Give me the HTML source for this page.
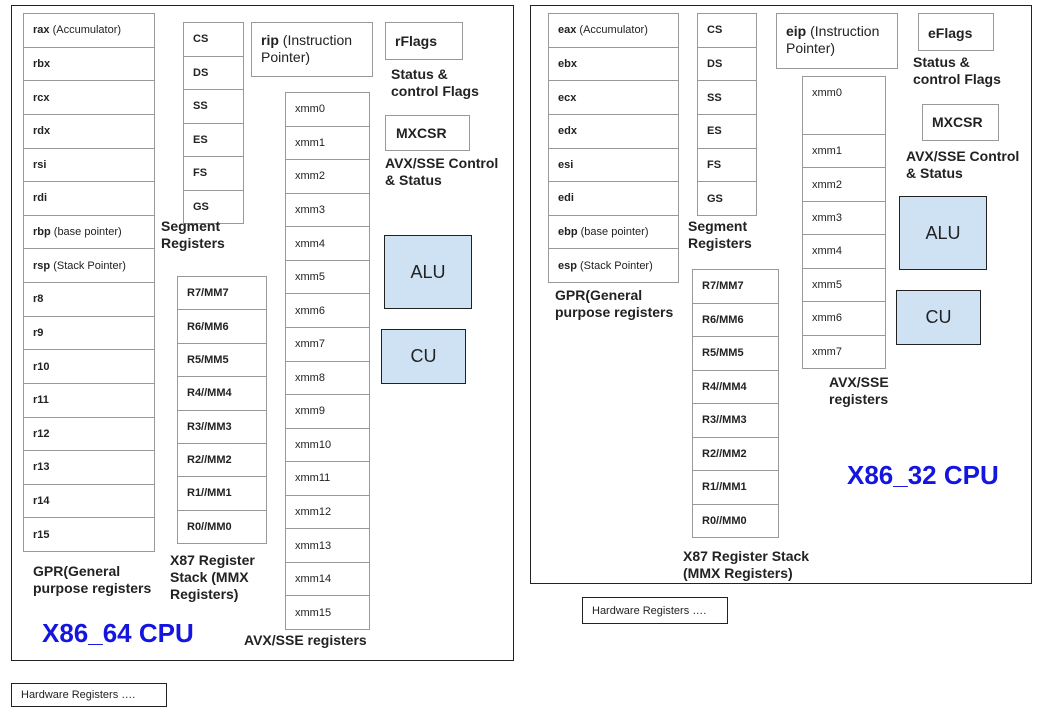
<!DOCTYPE html>
<html><head><meta charset="utf-8"><style>
body{margin:0;width:1045px;height:714px;background:#fff;position:relative;overflow:hidden;font-family:"Liberation Sans",Arial,sans-serif;color:#222}
.outer{position:absolute;border:1px solid #222;box-sizing:border-box}
.stack{position:absolute;display:flex;flex-direction:column;border:1px solid #999;box-sizing:border-box;background:#fff}
.stack div{flex:1;border-top:1px solid #999;display:flex;align-items:center;padding-left:9px;font-size:11px;font-weight:bold;box-sizing:border-box;min-height:0}
.stack div:first-child{border-top:none}
.stack span{font-weight:normal}
.xm div{font-weight:normal;font-size:11px}
.box{position:absolute;border:1px solid #999;box-sizing:border-box;background:#fff}
.lbl{position:absolute;font-weight:bold;font-size:14px;line-height:17px;color:#222}
.blue{position:absolute;background:#cfe2f3;border:1px solid #222;box-sizing:border-box;display:flex;align-items:center;justify-content:center;font-size:18px}
.cpu{position:absolute;color:#1515e0;font-weight:bold;font-size:26px}
.hw{position:absolute;border:1px solid #222;box-sizing:border-box;font-size:11px;display:flex;align-items:center;padding-left:9px}
</style></head><body>
<div class="outer" style="left:11px;top:5px;width:503px;height:656px"></div>
<div class="outer" style="left:530px;top:5px;width:502px;height:579px"></div>

<!-- LEFT -->
<div class="stack" style="left:23px;top:13px;width:132px;height:539px">
<div>rax&nbsp;<span>(Accumulator)</span></div><div>rbx</div><div>rcx</div><div>rdx</div><div>rsi</div><div>rdi</div><div>rbp&nbsp;<span>(base pointer)</span></div><div>rsp&nbsp;<span>(Stack Pointer)</span></div><div>r8</div><div>r9</div><div>r10</div><div>r11</div><div>r12</div><div>r13</div><div>r14</div><div>r15</div></div>
<div class="stack" style="left:183px;top:22px;width:61px;height:202px">
<div>CS</div><div>DS</div><div>SS</div><div>ES</div><div>FS</div><div>GS</div></div>
<div class="box" style="left:251px;top:22px;width:122px;height:55px;padding:9px 0 0 9px;font-size:14px;line-height:17px"><b>rip</b> (Instruction Pointer)</div>
<div class="box" style="left:385px;top:22px;width:78px;height:38px;padding:10px 0 0 9px;font-size:14px;font-weight:bold">rFlags</div>
<div class="lbl" style="left:391px;top:66px">Status &amp;<br>control Flags</div>
<div class="stack xm" style="left:285px;top:92px;width:85px;height:538px">
<div>xmm0</div><div>xmm1</div><div>xmm2</div><div>xmm3</div><div>xmm4</div><div>xmm5</div><div>xmm6</div><div>xmm7</div><div>xmm8</div><div>xmm9</div><div>xmm10</div><div>xmm11</div><div>xmm12</div><div>xmm13</div><div>xmm14</div><div>xmm15</div></div>
<div class="box" style="left:385px;top:115px;width:85px;height:36px;padding:9px 0 0 10px;font-size:14px;font-weight:bold">MXCSR</div>
<div class="lbl" style="left:385px;top:155px">AVX/SSE Control<br>&amp; Status</div>
<div class="blue" style="left:384px;top:235px;width:88px;height:74px">ALU</div>
<div class="blue" style="left:381px;top:329px;width:85px;height:55px">CU</div>
<div class="lbl" style="left:161px;top:218px">Segment<br>Registers</div>
<div class="stack" style="left:177px;top:276px;width:90px;height:268px">
<div>R7/MM7</div><div>R6/MM6</div><div>R5/MM5</div><div>R4//MM4</div><div>R3//MM3</div><div>R2//MM2</div><div>R1//MM1</div><div>R0//MM0</div></div>
<div class="lbl" style="left:170px;top:552px">X87 Register<br>Stack (MMX<br>Registers)</div>
<div class="lbl" style="left:33px;top:563px">GPR(General<br>purpose registers</div>
<div class="cpu" style="left:42px;top:618px">X86_64 CPU</div>
<div class="lbl" style="left:244px;top:632px">AVX/SSE registers</div>
<div class="hw" style="left:11px;top:683px;width:156px;height:24px">Hardware Registers ….</div>

<!-- RIGHT -->
<div class="stack" style="left:548px;top:13px;width:131px;height:270px">
<div>eax&nbsp;<span>(Accumulator)</span></div><div>ebx</div><div>ecx</div><div>edx</div><div>esi</div><div>edi</div><div>ebp&nbsp;<span>(base pointer)</span></div><div>esp&nbsp;<span>(Stack Pointer)</span></div></div>
<div class="stack" style="left:697px;top:13px;width:60px;height:203px">
<div>CS</div><div>DS</div><div>SS</div><div>ES</div><div>FS</div><div>GS</div></div>
<div class="box" style="left:776px;top:13px;width:122px;height:56px;padding:9px 0 0 9px;font-size:14px;line-height:17px"><b>eip</b> (Instruction Pointer)</div>
<div class="box" style="left:918px;top:13px;width:76px;height:38px;padding:11px 0 0 9px;font-size:14px;font-weight:bold">eFlags</div>
<div class="lbl" style="left:913px;top:54px">Status &amp;<br>control Flags</div>
<div class="stack xm" style="left:802px;top:76px;width:84px;height:293px">
<div style="flex:0 0 57px;align-items:flex-start;padding-top:10px">xmm0</div><div>xmm1</div><div>xmm2</div><div>xmm3</div><div>xmm4</div><div>xmm5</div><div>xmm6</div><div>xmm7</div></div>
<div class="box" style="left:922px;top:104px;width:77px;height:37px;padding:9px 0 0 9px;font-size:14px;font-weight:bold">MXCSR</div>
<div class="lbl" style="left:906px;top:148px">AVX/SSE Control<br>&amp; Status</div>
<div class="blue" style="left:899px;top:196px;width:88px;height:74px">ALU</div>
<div class="blue" style="left:896px;top:290px;width:85px;height:55px">CU</div>
<div class="lbl" style="left:688px;top:218px">Segment<br>Registers</div>
<div class="lbl" style="left:555px;top:287px">GPR(General<br>purpose registers</div>
<div class="stack" style="left:692px;top:269px;width:87px;height:269px">
<div>R7/MM7</div><div>R6/MM6</div><div>R5/MM5</div><div>R4//MM4</div><div>R3//MM3</div><div>R2//MM2</div><div>R1//MM1</div><div>R0//MM0</div></div>
<div class="lbl" style="left:683px;top:548px">X87 Register Stack<br>(MMX Registers)</div>
<div class="lbl" style="left:829px;top:374px">AVX/SSE<br>registers</div>
<div class="cpu" style="left:847px;top:460px">X86_32 CPU</div>
<div class="hw" style="left:582px;top:597px;width:146px;height:27px">Hardware Registers ….</div>
</body></html>
